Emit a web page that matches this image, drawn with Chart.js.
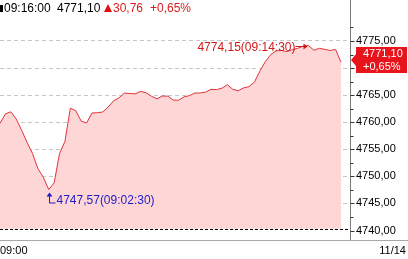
<!DOCTYPE html>
<html>
<head>
<meta charset="utf-8">
<script src="https://cdn.jsdelivr.net/npm/chart.js@4.4.0/dist/chart.umd.min.js"></script>
<style>
body { margin: 0; background: #fff; }
#wrap { position: relative; width: 408px; height: 259px; overflow: hidden; font-family: "Liberation Sans", Arial, sans-serif; }
#chart { position: absolute; left: 0; top: 0; }
.txt { position: absolute; white-space: nowrap; line-height: 14px; font-size: 12px; }
.red { color: #d81c1c; }
</style>
</head>
<body>
<div id="wrap">
  <canvas id="chart" width="408" height="259"></canvas>
  <div style="position:absolute;left:0;top:5px;width:3px;height:7px;background:#000;"></div>
  <div id="hTime" class="txt" style="left:4px;top:1px;"></div>
  <div id="hPrice" class="txt" style="left:57px;top:1px;"></div>
  <div style="position:absolute;left:104px;top:4px;width:0;height:0;border-left:4.5px solid transparent;border-right:4.5px solid transparent;border-bottom:8px solid #e01010;"></div>
  <div id="hChange" class="txt red" style="left:113px;top:1px;"></div>
  <div id="hPct" class="txt red" style="left:150px;top:1px;"></div>
  <div class="txt" style="left:0;top:243px;font-size:11px;">09:00</div>
  <div class="txt" style="right:2px;top:243px;font-size:11px;">11/14</div>
</div>
<script>
// 15초 간격 지수 (09:00:15 ~ 09:16:00)
const timeLabels = [
  '09:00:15', '09:00:30', '09:00:45',
  '09:01:00', '09:01:15', '09:01:30', '09:01:45',
  '09:02:00', '09:02:15', '09:02:30', '09:02:45',
  '09:03:00', '09:03:15', '09:03:30', '09:03:45',
  '09:04:00', '09:04:15', '09:04:30', '09:04:45',
  '09:05:00', '09:05:15', '09:05:30', '09:05:45',
  '09:06:00', '09:06:15', '09:06:30', '09:06:45',
  '09:07:00', '09:07:15', '09:07:30', '09:07:45',
  '09:08:00', '09:08:15', '09:08:30', '09:08:45',
  '09:09:00', '09:09:15', '09:09:30', '09:09:45',
  '09:10:00', '09:10:15', '09:10:30', '09:10:45',
  '09:11:00', '09:11:15', '09:11:30', '09:11:45',
  '09:12:00', '09:12:15', '09:12:30', '09:12:45',
  '09:13:00', '09:13:15', '09:13:30', '09:13:45',
  '09:14:00', '09:14:15', '09:14:30', '09:14:45',
  '09:15:00', '09:15:15', '09:15:30', '09:15:45',
  '09:16:00'
];
const priceValues = [
  4759.79, 4761.54, 4761.92, 4760.58, 4758.51, 4756.28, 4754.23, 4751.43, 4749.86, 4747.57,
  4748.78, 4754.20, 4756.47, 4762.59, 4762.12, 4760.19, 4759.86, 4761.71, 4761.75, 4761.89,
  4762.81, 4763.97, 4764.51, 4765.38, 4765.30, 4765.24, 4765.70, 4765.42, 4764.79, 4764.32,
  4764.83, 4764.81, 4764.09, 4764.06, 4764.67, 4764.91, 4765.38, 4765.40, 4765.56, 4766.08,
  4766.01, 4766.28, 4766.92, 4766.08, 4765.82, 4766.33, 4766.56, 4767.40, 4769.41, 4771.15,
  4772.47, 4773.16, 4773.25, 4773.04, 4773.39, 4773.64, 4774.04, 4774.15, 4773.29, 4773.64,
  4773.46, 4773.25, 4773.43, 4771.10
];
const yTickValues = [4740, 4742.5, 4745, 4747.5, 4750, 4752.5, 4755, 4757.5, 4760, 4762.5,
  4765, 4767.5, 4770, 4772.5, 4775, 4777.5];
const prevClose = 4740.34;
const lastTime = '09:16:00';
const lastPrice = 4771.10;
const changeValue = 30.76;
const changePct = 0.65;

const FONT = '"Liberation Sans", Arial, sans-serif';
const lineColor = '#e0343a';
const fillColor = '#ffd6d6';

function fmt(v) {
  return v.toFixed(2).replace('.', ',');
}
function toSec(t) {
  const p = t.split(':').map(Number);
  return (p[0] - 9) * 3600 + p[1] * 60 + p[2];
}

document.getElementById('hTime').textContent = lastTime;
document.getElementById('hPrice').textContent = fmt(lastPrice);
document.getElementById('hChange').textContent = fmt(changeValue);
document.getElementById('hPct').textContent = '+' + fmt(changePct) + '%';

const points = timeLabels.map((t, i) => ({ x: toSec(t), y: priceValues[i] }));

// 최고/최저 찾기
let maxIdx = 0, minIdx = 0;
priceValues.forEach((v, i) => {
  if (v > priceValues[maxIdx]) maxIdx = i;
  if (v < priceValues[minIdx]) minIdx = i;
});

const overlay = {
  id: 'overlay',
  afterDatasetsDraw(chart) {
    const ctx = chart.ctx;
    const xs = chart.scales.x;
    const ys = chart.scales.y;
    const area = chart.chartArea;
    ctx.save();

    // 전일 종가 기준선
    const by = Math.round(ys.getPixelForValue(prevClose)) + 0.5;
    ctx.strokeStyle = '#000';
    ctx.lineWidth = 1;
    ctx.setLineDash([3, 2]);
    ctx.beginPath();
    ctx.moveTo(area.left, by);
    ctx.lineTo(area.right, by);
    ctx.stroke();
    ctx.setLineDash([]);

    // 축선, 아래 선
    const ax = Math.round(area.right) + 0.5;
    ctx.strokeStyle = '#7a7a7a';
    ctx.beginPath();
    ctx.moveTo(ax, 0);
    ctx.lineTo(ax, area.bottom);
    ctx.stroke();
    ctx.strokeStyle = '#a8a8a8';
    ctx.beginPath();
    ctx.moveTo(0, Math.round(area.bottom) + 0.5);
    ctx.lineTo(chart.width, Math.round(area.bottom) + 0.5);
    ctx.stroke();

    // 눈금 표시
    ctx.strokeStyle = '#333';
    yTickValues.forEach(v => {
      const y = Math.round(ys.getPixelForValue(v)) + 0.5;
      const len = v % 5 === 0 ? 4 : 3;
      ctx.beginPath();
      ctx.moveTo(ax, y);
      ctx.lineTo(ax + len, y);
      ctx.stroke();
    });

    // 최고가 표시
    const mx = xs.getPixelForValue(points[maxIdx].x);
    const my = ys.getPixelForValue(points[maxIdx].y);
    ctx.fillStyle = '#d01818';
    ctx.strokeStyle = '#d01818';
    ctx.font = '12px ' + FONT;
    ctx.textAlign = 'right';
    ctx.textBaseline = 'middle';
    ctx.fillText(fmt(priceValues[maxIdx]) + '(' + timeLabels[maxIdx] + ')', mx - 13, my + 2);
    ctx.beginPath();
    ctx.moveTo(mx - 13, Math.round(my) + 0.5);
    ctx.lineTo(mx - 2, Math.round(my) + 0.5);
    ctx.stroke();
    ctx.beginPath();
    ctx.moveTo(mx - 1, Math.round(my) + 0.5);
    ctx.lineTo(mx - 5, Math.round(my) - 2.5);
    ctx.lineTo(mx - 5, Math.round(my) + 3.5);
    ctx.closePath();
    ctx.fill();

    // 최저가 표시
    const nx = Math.round(xs.getPixelForValue(points[minIdx].x)) + 0.5;
    const ny = ys.getPixelForValue(points[minIdx].y);
    ctx.fillStyle = '#1c1cc8';
    ctx.strokeStyle = '#1c1cc8';
    ctx.beginPath();
    ctx.moveTo(nx, ny + 5);
    ctx.lineTo(nx, ny + 13.5);
    ctx.lineTo(nx + 6, ny + 13.5);
    ctx.stroke();
    ctx.beginPath();
    ctx.moveTo(nx, ny + 3);
    ctx.lineTo(nx - 3, ny + 7);
    ctx.lineTo(nx + 3, ny + 7);
    ctx.closePath();
    ctx.fill();
    ctx.textAlign = 'left';
    ctx.fillText(fmt(priceValues[minIdx]) + '(' + timeLabels[minIdx] + ')', nx + 7, ny + 11);

    // 현재가 박스
    const cy = Math.round(ys.getPixelForValue(lastPrice)) - 2;
    const top = cy - 13, bot = cy + 13;
    ctx.fillStyle = '#e8141c';
    ctx.beginPath();
    ctx.moveTo(356, top);
    ctx.lineTo(407, top);
    ctx.lineTo(407, bot);
    ctx.lineTo(356, bot);
    ctx.lineTo(356, cy + 6);
    ctx.lineTo(351, cy);
    ctx.lineTo(356, cy - 6);
    ctx.closePath();
    ctx.fill();
    ctx.fillStyle = '#fff';
    ctx.font = '11px ' + FONT;
    ctx.textAlign = 'left';
    ctx.fillText(fmt(lastPrice), 363, cy - 6.5);
    ctx.fillText('+' + fmt(changePct) + '%', 363, cy + 7);

    ctx.restore();
  }
};

const ctx = document.getElementById('chart').getContext('2d');
new Chart(ctx, {
  type: 'line',
  data: {
    datasets: [{
      data: points,
      borderColor: lineColor,
      borderWidth: 1,
      backgroundColor: fillColor,
      fill: { value: prevClose },
      pointRadius: 0,
      tension: 0
    }]
  },
  options: {
    responsive: false,
    animation: false,
    devicePixelRatio: 1,
    layout: { padding: { left: 0, right: 0, top: 0, bottom: 19 } },
    plugins: {
      legend: { display: false },
      tooltip: { enabled: false }
    },
    scales: {
      x: { type: 'linear', display: false, min: 15, max: 985 },
      y: {
        position: 'right',
        min: 4738.25,
        max: 4780.24,
        afterFit: scale => { scale.width = 58; },
        afterBuildTicks: scale => { scale.ticks = yTickValues.map(v => ({ value: v })); },
        grid: {
          drawTicks: false,
          color: c => (c.tick && c.tick.value % 5 === 0 && c.tick.value !== 4740) ? '#c6c6c6' : 'rgba(0,0,0,0)'
        },
        border: { display: false, dash: [4, 3] },
        ticks: {
          padding: 6,
          color: '#000',
          font: { family: FONT, size: 11 },
          callback: v => v % 5 === 0 ? fmt(v) : ''
        }
      }
    }
  },
  plugins: [overlay]
});
</script>
</body>
</html>
